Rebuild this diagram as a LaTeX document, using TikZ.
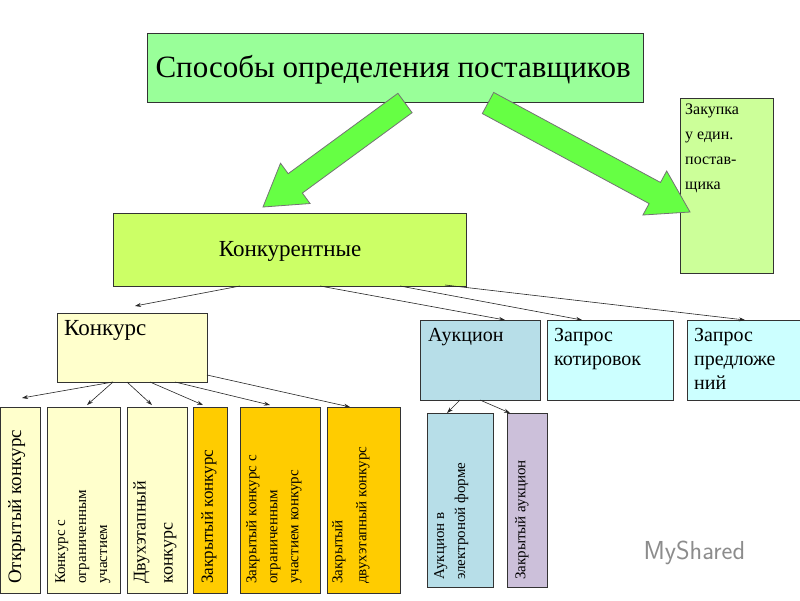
\documentclass[tikz,border=0pt]{standalone}
\usepackage{fontspec}
\setmainfont{Liberation Serif}
\usetikzlibrary{calc,arrows.meta}
\definecolor{tgreen}{HTML}{99FF99}
\definecolor{zgreen}{HTML}{CCFF99}
\definecolor{kgreen}{HTML}{CCFF66}
\definecolor{pyel}{HTML}{FFFFCC}
\definecolor{gold}{HTML}{FFCC00}
\definecolor{teal}{HTML}{B7DEE8}
\definecolor{pcyan}{HTML}{CCFFFF}
\definecolor{lilac}{HTML}{CCC0DA}
\definecolor{arrgreen}{HTML}{66FF44}
\tikzset{
 box/.style={draw=black!80,line width=0.8pt},
 con/.style={-{Stealth[length=6pt,width=4pt]},line width=0.6pt,black!85},
 vt/.style={rotate=90,anchor=north west,align=left,font=\fontsize{14}{16}\selectfont,inner sep=0pt},
}
\newcommand\blockarrow[2]{%
 \coordinate (hh) at ($(#2)!40pt!(#1)$);
 \filldraw[fill=arrgreen,draw=black!55,line width=0.8pt]
  ($(#1)!12pt!90:(#2)$) -- ($(hh)!12pt!-90:(#1)$) -- ($(hh)!25pt!-90:(#1)$) -- (#2)
  -- ($(hh)!25pt!90:(#1)$) -- ($(hh)!12pt!90:(#1)$) -- ($(#1)!12pt!-90:(#2)$) -- cycle;}
\begin{document}
\begin{tikzpicture}[x=1pt,y=-1pt]
\useasboundingbox[fill=white] (0,0) rectangle (800,600);
\draw[box,fill=tgreen] (147,33) rectangle (643,102);
\node[anchor=west,font=\fontsize{31}{34}\selectfont] (title) at (152,70) {Способы определения поставщиков};
\coordinate (tA) at (405,103); \coordinate (tB) at (488,103);
\draw[box,fill=zgreen] (680,98) rectangle (773,273);
\node[anchor=north west,align=left,font=\fontsize{16}{25}\selectfont,inner sep=0pt] (zak) at (685,104) {Закупка\\у един.\\постав-\\щика};
\coordinate (zA) at (690,212);
\draw[box,fill=kgreen] (113,213) rectangle (466,286);
\node[font=\fontsize{23}{26}\selectfont] (kk) at (290,251) {Конкурентные};
\coordinate (kA) at (263,207);
\blockarrow{tA}{kA}
\blockarrow{tB}{zA}
\coordinate (k1) at (240,286); \coordinate (k2) at (320,286); \coordinate (k3) at (400,286); \coordinate (k4) at (445,285);
\draw[box,fill=pyel] (57,313) rectangle (207,382);
\node[anchor=north west,font=\fontsize{23}{26}\selectfont,inner sep=0pt] (kon) at (64,320) {Конкурс};
\draw[box,fill=teal] (420,320) rectangle (540,400);
\node[anchor=north west,font=\fontsize{20}{24}\selectfont,inner sep=0pt] (auk) at (428,328) {Аукцион};
\draw[box,fill=pcyan] (547,320) rectangle (673,400);
\node[anchor=north west,align=left,font=\fontsize{20}{24}\selectfont,inner sep=0pt] (kot) at (554,328) {Запрос\\котировок};
\draw[box,fill=pcyan] (687,320) rectangle (800,400);
\node[anchor=north west,align=left,font=\fontsize{20}{24}\selectfont,inner sep=0pt] (pre) at (694,328) {Запрос\\предложе\\ний};
\coordinate (kon1) at (135,306); \coordinate (auk1) at (505,320); \coordinate (kot1) at (582,320); \coordinate (pre1) at (745,320);
\draw[con] (k1) -- (kon1);
\draw[con] (k2) -- (auk1);
\draw[con] (k3) -- (kot1);
\draw[con] (k4) -- (pre1);
\draw[box,fill=pyel] (0,407) rectangle (40,593);
\draw[box,fill=pyel] (47,407) rectangle (120,593);
\draw[box,fill=pyel] (127,407) rectangle (187,593);
\draw[box,fill=gold] (193,407) rectangle (227,593);
\draw[box,fill=gold] (240,407) rectangle (320,593);
\draw[box,fill=gold] (327,407) rectangle (400,593);
\draw[box,fill=teal] (427,413) rectangle (493,587);
\draw[box,fill=lilac] (507,413) rectangle (547,587);
\node[vt,font=\fontsize{19}{21}\selectfont] (b1) at (8,584) {Открытый конкурс};
\node[vt,font=\fontsize{15}{21}\selectfont] (b2) at (55,584) {Конкурс с\\ограниченным\\участием};
\node[vt,font=\fontsize{18}{27}\selectfont] (b3) at (133,584) {Двухэтапный\\конкурс};
\node[vt,font=\fontsize{17}{18}\selectfont] (b4) at (201,584) {Закрытый конкурс};
\node[vt,font=\fontsize{15}{21}\selectfont] (b5) at (246,584) {Закрытый конкурс с\\ограниченным\\участием конкурс};
\node[vt,font=\fontsize{15}{24}\selectfont] (b6) at (332,584) {Закрытый\\двухэтапный конкурс};
\node[vt,font=\fontsize{15}{21}\selectfont] (b7) at (434,580) {Аукцион в\\электроной форме};
\node[vt,font=\fontsize{15}{18}\selectfont] (b8) at (515,580) {Закрытый аукцион};
\coordinate (c0) at (113,382); \coordinate (c1) at (127,382); \coordinate (c2) at (150,382);
\coordinate (c3) at (175,382); \coordinate (c4) at (207,375);
\coordinate (d1) at (22,398); \coordinate (d2) at (87,405); \coordinate (d3) at (152,405);
\coordinate (d4) at (203,405); \coordinate (d5) at (270,405); \coordinate (d6) at (350,407);
\draw[con] (c0) -- (d1); \draw[con] (c0) -- (d2); \draw[con] (c1) -- (d3);
\draw[con] (c2) -- (d4); \draw[con] (c3) -- (d5); \draw[con] (c4) -- (d6);
\coordinate (a0) at (460,400); \coordinate (a1) at (480,400);
\coordinate (e1) at (447,413); \coordinate (e2) at (510,413);
\draw[con] (a0) -- (e1); \draw[con] (a1) -- (e2);
\node[font=\fontsize{26}{28}\sffamily,text=black!45,anchor=west] (ms) at (640,553) {MyShared};
\end{tikzpicture}
\end{document}
